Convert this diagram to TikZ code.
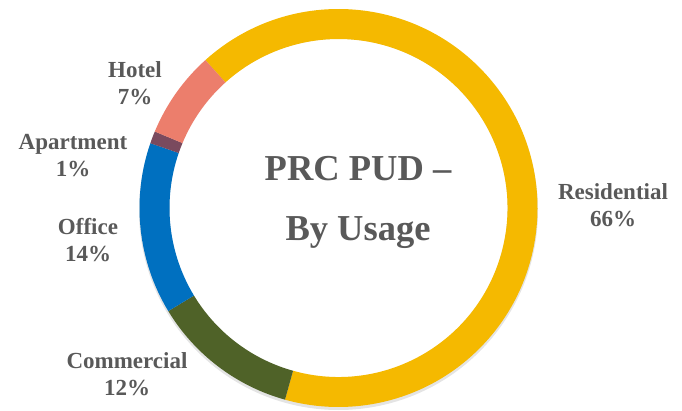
\documentclass[tikz,border=0pt]{standalone}
\usepackage{fontspec}
\setmainfont{Liberation Serif}
\usepackage{xcolor}
\usepackage{tikz}
\usetikzlibrary{calc}

\definecolor{resid}{RGB}{245,185,0}
\definecolor{comm}{RGB}{79,98,40}
\definecolor{office}{RGB}{0,112,192}
\definecolor{apart}{RGB}{122,74,94}
\definecolor{hotel}{RGB}{236,126,108}
\definecolor{labelgray}{RGB}{89,89,89}

\tikzset{
    lbl/.style={align=center, text=labelgray, font=\bfseries\fontsize{23}{27}\selectfont, inner sep=0pt},
    ttl/.style={align=center, text=labelgray, font=\bfseries\fontsize{36.5}{60}\selectfont, inner sep=0pt}
}

\begin{document}
\begin{tikzpicture}[x=1pt, y=1pt]
    \useasboundingbox (0,0) rectangle (682,410);
    \def\Rout{199}
    \def\Rin{169}
    \coordinate (c) at (338.5,202);

    % soft shadow under the ring
    \fill [black!30, opacity=0.35] ([yshift=-2.5]c) circle [radius=\Rout+0.5] ([yshift=-2.5]c) circle [radius=\Rin-1] [even odd rule];
    \fill [white] (c) circle [radius=\Rin];

    % ring pieces: start/end angle/colour
    \foreach \a/\b/\col in {132/-105.6/resid, 254.4/211.2/comm, 211.2/161/office, 161/157.4/apart, 157.4/132/hotel}
        \fill [\col] ($(c)+(\a:\Rout)$) arc [start angle=\a, end angle=\b, radius=\Rout]
            -- ($(c)+(\b:\Rin)$) arc [start angle=\b, end angle=\a, radius=\Rin] -- cycle;

    \node [ttl] (title) at (358,207.5) {PRC PUD --\\By Usage};

    \node [lbl] (residential) at (613,205) {Residential\\66\%};
    \node [lbl] (commercial) at (127,36) {Commercial\\12\%};
    \node [lbl] (office) at (88,170) {Office\\14\%};
    \node [lbl] (apartment) at (73,254) {Apartment\\1\%};
    \node [lbl] (hotel) at (135,327) {Hotel\\7\%};
\end{tikzpicture}
\end{document}
